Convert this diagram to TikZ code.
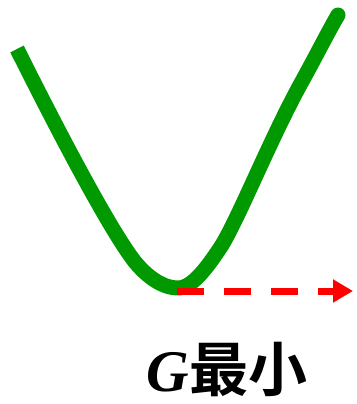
\documentclass[tikz,border=0pt]{standalone}
\usepackage{fontspec}
\setmainfont{Liberation Serif}
\newfontfamily\cjk{Noto Sans CJK SC}[BoldFont={* Bold}]
\usetikzlibrary{arrows.meta}
\definecolor{curvegreen}{RGB}{0,153,0}
\definecolor{arrowred}{RGB}{255,0,0}
\tikzset{
  curveline/.style={draw=curvegreen, line width=15pt, line join=round},
  dasharrow/.style={draw=arrowred, line width=7pt, dash pattern=on 27pt off 20pt, -{Triangle[length=20pt,width=22pt]}},
  label/.style={inner sep=0pt, anchor=base, font=\fontsize{59}{63}\selectfont\bfseries}
}
\begin{document}
\begin{tikzpicture}[x=1pt,y=-1pt]
\useasboundingbox (0,0) rectangle (356,404);
\coordinate (s) at (17,49);
\coordinate (m) at (178,288);
\coordinate (e) at (338,15);
\coordinate (t) at (353,291);
\draw[curveline] (s) .. controls (60,135) and (110,230) .. (135,262)
  .. controls (150,280) and (165,288) .. (m)
  .. controls (192,288) and (207,268) .. (222,245)
  .. controls (240,215) and (270,140) .. (300,85)
  .. controls (315,58) and (328,32) .. (e);
\fill[curvegreen] (e) circle (7.5pt);
\coordinate (a) at (177,291);
\draw[dasharrow] (a) -- (t);
\node[label] (g) at (227,391) {\itshape G\upshape{\cjk 最小}};
\end{tikzpicture}
\end{document}
